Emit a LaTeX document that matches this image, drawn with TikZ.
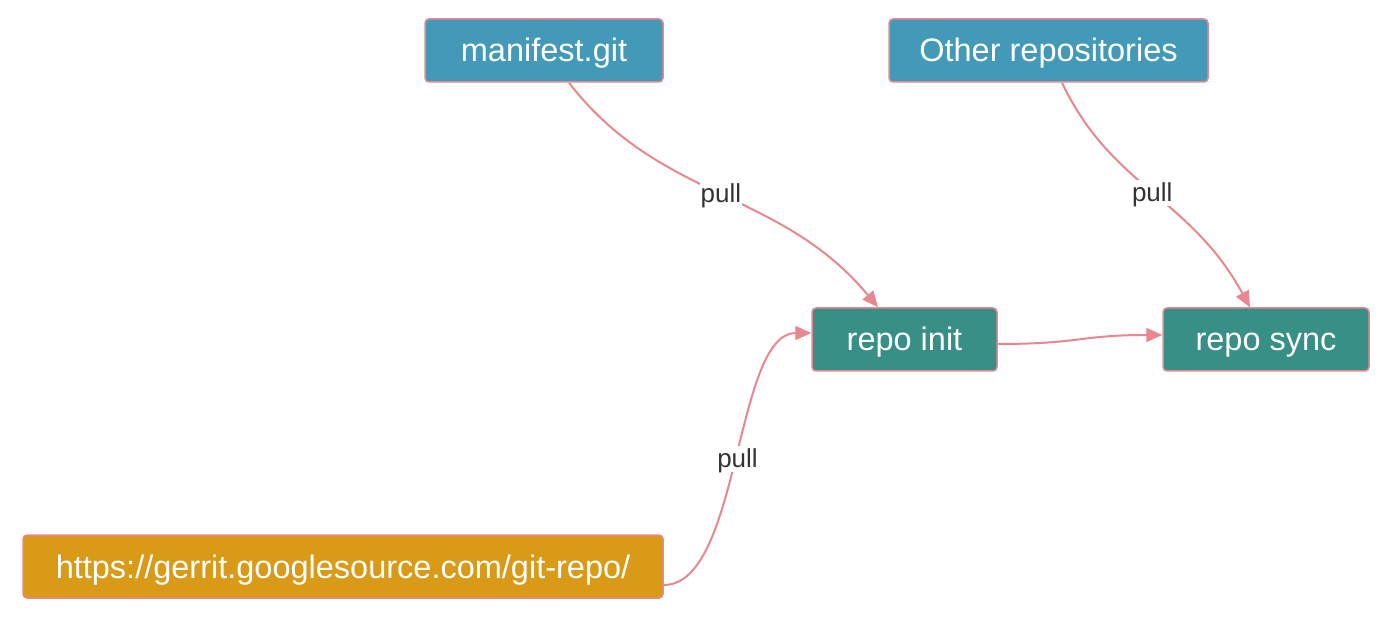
\documentclass[tikz,border=0pt]{standalone}
\usepackage{fontspec}
\setmainfont{Liberation Sans}
\usetikzlibrary{arrows.meta}
\definecolor{gitblue}{HTML}{4399B8}
\definecolor{repoteal}{HTML}{378F86}
\definecolor{srcorange}{HTML}{D99A17}
\definecolor{pinkline}{HTML}{E8878F}
\definecolor{labelgray}{HTML}{333333}
\begin{document}
\begin{tikzpicture}[x=1pt,y=-1pt,
        box/.style={draw=pinkline,line width=1.5pt,rounded corners=4pt,
            minimum height=63pt,text=white,text height=29pt,text depth=6pt,
            font=\fontsize{32.5}{38}\selectfont},
        gitbox/.style={box,fill=gitblue},
        repobox/.style={box,fill=repoteal},
        srcbox/.style={box,fill=srcorange},
        flow/.style={draw=pinkline,line width=2pt,-{Triangle[length=16pt,width=14pt]}},
        lbl/.style={fill=white,inner sep=1pt,text=labelgray,text height=20pt,text depth=4pt,
            font=\fontsize{26}{30}\selectfont}]
        \useasboundingbox (0,0) rectangle (1398,620);
        % \draw[help lines] (0,0) grid[step=50] (1398,620);
        \node[gitbox,minimum width=238pt] (manifest) at (544,50.5) {manifest.git};
        \node[gitbox,minimum width=319pt] (other) at (1048.5,50.5) {Other repositories};
        \node[repobox,minimum width=185pt] (init) at (904.5,339.5) {repo init};
        \node[repobox,minimum width=206pt] (sync) at (1266,339.5) {repo sync};
        \node[srcbox,minimum width=640pt] (src) at (343,566.5) {https://gerrit.googlesource.com/git-repo/};
        \draw[flow] ([xshift=25pt]manifest.south) .. controls +(91,118) and +(-98,-118) ..
            node[lbl] {pull} ([xshift=-26.5pt]init.north);
        \draw[flow] ([xshift=13.5pt]other.south) .. controls +(50,105) and +(-60,-110) ..
            node[lbl] {pull} ([xshift=-16pt]sync.north);
        \draw[flow] ([yshift=-18.5pt]src.east) .. controls +(77,0) and +(-77,0) ..
            node[lbl] {pull} ([yshift=6.5pt]init.west);
        \draw[flow] ([yshift=-4.5pt]init.east) .. controls +(83,0) and +(-83,0) ..
            ([yshift=4.5pt]sync.west);
\end{tikzpicture}
\end{document}
